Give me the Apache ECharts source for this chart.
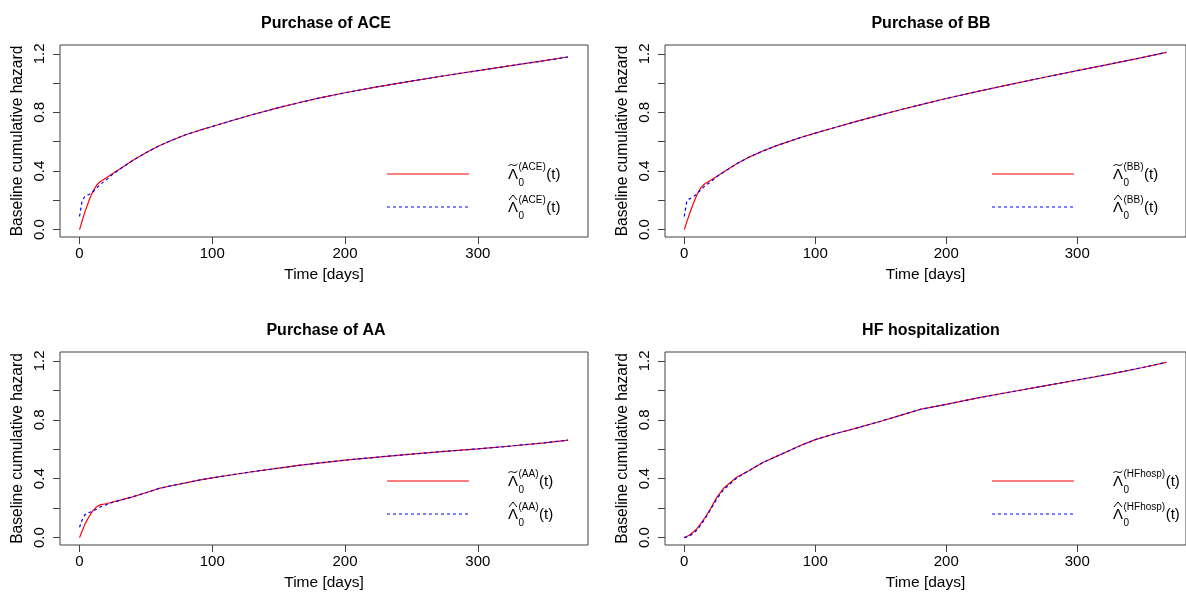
<!DOCTYPE html>
<html>
<head>
<meta charset="utf-8">
<script src="https://cdn.jsdelivr.net/npm/echarts@6/dist/echarts.min.js"></script>
<style>
  html, body { margin: 0; padding: 0; background: #ffffff; }
  #chart { width: 1186px; height: 599px; }
</style>
</head>
<body>
<div id="chart"></div>
<script>
// Follow-up time points (days)
const days = [0, 2, 4, 7, 10, 13, 16, 20, 25, 30, 40, 50, 60, 70, 80, 90, 100, 115, 130, 150, 165, 180, 200, 225, 250, 275, 300, 325, 350, 368];

// Smoothed (tilde) and Breslow-type (hat) baseline cumulative hazards
const aceTilde = [0, 0.06, 0.12, 0.195, 0.26, 0.305, 0.33, 0.352, 0.383, 0.413, 0.472, 0.525, 0.573, 0.612, 0.648, 0.677, 0.704, 0.745, 0.784, 0.833, 0.866, 0.897, 0.934, 0.976, 1.014, 1.05, 1.085, 1.119, 1.153, 1.178];
const aceHat   = [0.09, 0.2, 0.225, 0.24, 0.257, 0.285, 0.312, 0.338, 0.378, 0.41, 0.472, 0.525, 0.573, 0.612, 0.648, 0.677, 0.704, 0.745, 0.784, 0.833, 0.866, 0.897, 0.934, 0.976, 1.014, 1.05, 1.085, 1.119, 1.153, 1.178];

const bbTilde = [0, 0.055, 0.107, 0.18, 0.245, 0.29, 0.315, 0.335, 0.364, 0.393, 0.45, 0.497, 0.537, 0.572, 0.602, 0.632, 0.659, 0.697, 0.735, 0.783, 0.818, 0.852, 0.895, 0.945, 0.993, 1.04, 1.085, 1.13, 1.175, 1.21];
const bbHat   = [0.09, 0.195, 0.21, 0.225, 0.248, 0.275, 0.3, 0.325, 0.362, 0.392, 0.45, 0.497, 0.537, 0.572, 0.602, 0.632, 0.659, 0.697, 0.735, 0.783, 0.818, 0.852, 0.895, 0.945, 0.993, 1.04, 1.085, 1.13, 1.175, 1.21];

const aaTilde = [0, 0.045, 0.09, 0.14, 0.182, 0.21, 0.224, 0.23, 0.242, 0.253, 0.277, 0.305, 0.334, 0.354, 0.372, 0.39, 0.406, 0.427, 0.447, 0.472, 0.49, 0.506, 0.526, 0.547, 0.567, 0.585, 0.603, 0.622, 0.643, 0.662];
const aaHat   = [0.07, 0.12, 0.155, 0.17, 0.178, 0.195, 0.21, 0.222, 0.24, 0.252, 0.277, 0.305, 0.334, 0.354, 0.372, 0.39, 0.406, 0.427, 0.447, 0.472, 0.49, 0.506, 0.526, 0.547, 0.567, 0.585, 0.603, 0.622, 0.643, 0.662];

const hfTilde = [0, 0.008, 0.018, 0.038, 0.065, 0.1, 0.137, 0.195, 0.275, 0.335, 0.41, 0.458, 0.51, 0.55, 0.59, 0.63, 0.665, 0.705, 0.74, 0.79, 0.83, 0.87, 0.905, 0.95, 0.99, 1.03, 1.07, 1.11, 1.155, 1.19];
const hfHat   = [0, 0.005, 0.012, 0.028, 0.055, 0.09, 0.13, 0.19, 0.265, 0.325, 0.405, 0.458, 0.51, 0.55, 0.59, 0.63, 0.665, 0.705, 0.74, 0.79, 0.83, 0.87, 0.905, 0.95, 0.99, 1.03, 1.07, 1.11, 1.155, 1.19];

const panelTitles = ['Purchase of ACE', 'Purchase of BB', 'Purchase of AA', 'HF hospitalization'];
const panelTags = ['ACE', 'BB', 'AA', 'HFhosp'];
const tildeSeries = [aceTilde, bbTilde, aaTilde, hfTilde];
const hatSeries = [aceHat, bbHat, aaHat, hfHat];

// Axis ticks and labels
const xTicks = [0, 100, 200, 300];
const yTicks = [0, 0.2, 0.4, 0.6, 0.8, 1.0, 1.2];
const yLabels = [0, 0.4, 0.8, 1.2];
const xName = 'Time [days]';
const yName = 'Baseline cumulative hazard';

// Panel boxes (pixels)
const boxes = [
  { left: 60,  top: 45,  width: 528, height: 192 },
  { left: 665, top: 45,  width: 528, height: 192 },
  { left: 60,  top: 352, width: 528, height: 193 },
  { left: 665, top: 352, width: 528, height: 193 }
];
const X_MIN = -14.7, X_MAX = 383;
const Y_MIN = -0.05, Y_MAX = 1.26;

const FONT = '"Liberation Sans", Arial, Helvetica, sans-serif';
const INK = '#000000';
const BOX = '#404040';

const chart = echarts.init(document.getElementById('chart'), null, { renderer: 'canvas' });

const grids = [], xAxes = [], yAxes = [], series = [], titles = [], graphics = [];

const measureCtx = document.createElement('canvas').getContext('2d');
function textWidth(str, size) {
  measureCtx.font = size + 'px ' + FONT;
  return measureCtx.measureText(str).width;
}

boxes.forEach((b, i) => {
  grids.push({
    left: b.left, top: b.top, width: b.width, height: b.height,
    show: true, borderColor: BOX, borderWidth: 1, backgroundColor: 'transparent',
    containLabel: false
  });
  xAxes.push({
    type: 'value', gridIndex: i, min: X_MIN, max: X_MAX, position: 'bottom',
    name: xName, nameLocation: 'middle', nameGap: 30,
    nameTextStyle: { fontFamily: FONT, fontSize: 15.5, color: INK },
    axisLine: { show: false, onZero: false },
    splitLine: { show: false },
    axisTick: { show: true, inside: false, length: 7, customValues: xTicks, lineStyle: { color: BOX, width: 1 } },
    axisLabel: { show: true, customValues: xTicks, margin: 9, fontFamily: FONT, fontSize: 15, color: INK,
      formatter: v => String(Math.round(v)) }
  });
  yAxes.push({
    type: 'value', gridIndex: i, min: Y_MIN, max: Y_MAX, position: 'left',
    name: yName, nameLocation: 'middle', nameGap: 34,
    nameTextStyle: { fontFamily: FONT, fontSize: 15.6, color: INK },
    axisLine: { show: false, onZero: false },
    splitLine: { show: false },
    axisTick: { show: true, inside: false, length: 7, customValues: yTicks, lineStyle: { color: BOX, width: 1 } },
    axisLabel: { show: true, customValues: yLabels, rotate: 90, margin: 13, fontFamily: FONT, fontSize: 15, color: INK,
      formatter: v => v.toFixed(1) }
  });
  series.push({
    type: 'line', xAxisIndex: i, yAxisIndex: i,
    data: days.map((d, k) => [d, tildeSeries[i][k]]),
    showSymbol: false, symbol: 'none', smooth: false,
    lineStyle: { color: '#ff0000', width: 1.2 },
    silent: true, animation: false, z: 2
  });
  series.push({
    type: 'line', xAxisIndex: i, yAxisIndex: i,
    data: days.map((d, k) => [d, hatSeries[i][k]]),
    showSymbol: false, symbol: 'none', smooth: false,
    lineStyle: { color: '#0000ff', width: 1.2, type: [3, 3] },
    silent: true, animation: false, z: 3
  });
  titles.push({
    text: panelTitles[i],
    left: b.left + b.width / 2 - 3, top: 11 + (i >= 2 ? 307 : 0), textAlign: 'center',
    textStyle: { fontFamily: FONT, fontSize: 16, fontWeight: 'bold', color: INK }
  });

  // Legend: line samples and Λ labels with accents, sub- and superscripts
  const gx = b.left, gy = b.top;
  const tag = '(' + panelTags[i] + ')';
  const supW = textWidth(tag, 10);
  const children = [];
  const rows = [
    { y: 129, color: '#ff0000', dash: null, accent: 'tilde' },
    { y: 162, color: '#0000ff', dash: [3, 3], accent: 'hat' }
  ];
  rows.forEach(r => {
    children.push({
      type: 'line', shape: { x1: 327, y1: r.y, x2: 409, y2: r.y },
      style: { stroke: r.color, lineWidth: 1.2, lineDash: r.dash }
    });
    const lx = 448;
    children.push({ type: 'text', x: lx, y: r.y + 0.5,
      style: { text: 'Λ', font: '15px ' + FONT, fill: INK, textAlign: 'left', textVerticalAlign: 'middle' } });
    if (r.accent === 'tilde') {
      children.push({ type: 'bezierCurve',
        shape: { x1: lx + 0.5, y1: r.y - 8, cpx1: lx + 3, cpy1: r.y - 12, cpx2: lx + 6, cpy2: r.y - 6, x2: lx + 9.5, y2: r.y - 10 },
        style: { stroke: INK, lineWidth: 1, fill: null } });
    } else {
      children.push({ type: 'polyline',
        shape: { points: [[lx + 1, r.y - 7], [lx + 5, r.y - 12], [lx + 9, r.y - 7]] },
        style: { stroke: INK, lineWidth: 1, fill: null } });
    }
    const sx = lx + 10.5;
    children.push({ type: 'text', x: sx, y: r.y + 9,
      style: { text: '0', font: '10px ' + FONT, fill: INK, textAlign: 'left', textVerticalAlign: 'middle' } });
    children.push({ type: 'text', x: sx, y: r.y - 7,
      style: { text: tag, font: '10px ' + FONT, fill: INK, textAlign: 'left', textVerticalAlign: 'middle' } });
    children.push({ type: 'text', x: sx + supW + 0.5, y: r.y + 1,
      style: { text: '(t)', font: '15px ' + FONT, fill: INK, textAlign: 'left', textVerticalAlign: 'middle' } });
  });
  graphics.push({ type: 'group', x: gx, y: gy, silent: true, children: children });
});

chart.setOption({
  backgroundColor: '#ffffff',
  animation: false,
  title: titles,
  grid: grids,
  xAxis: xAxes,
  yAxis: yAxes,
  series: series,
  graphic: graphics
});
</script>
</body>
</html>
